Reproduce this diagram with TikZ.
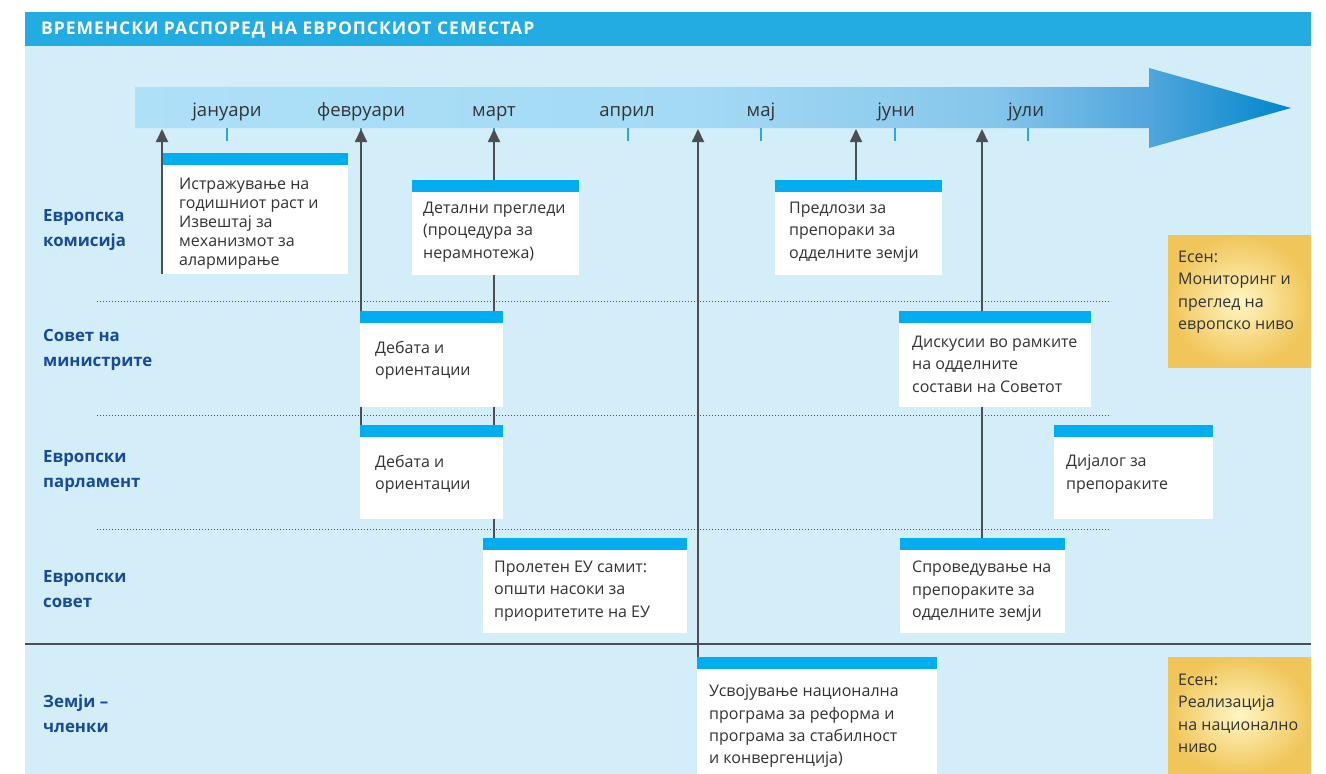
\documentclass[tikz,border=0pt]{standalone}
\usepackage{fontspec}
\setmainfont{Open Sans}
\usetikzlibrary{arrows.meta}
\definecolor{hdr}{HTML}{22ACE2}
\definecolor{bgc}{HTML}{D3EDF9}
\definecolor{stripc}{HTML}{00AEEF}
\definecolor{lblc}{HTML}{174B98}
\definecolor{txtc}{HTML}{333333}
\definecolor{lnc}{HTML}{4A4F55}
\definecolor{goldin}{HTML}{FFF6C2}
\definecolor{goldout}{HTML}{F0C55A}
\definecolor{tickc}{HTML}{29A9E0}
\definecolor{aa}{HTML}{AEE0F8}
\definecolor{ab}{HTML}{A4DAF5}
\definecolor{ac}{HTML}{86C6EB}
\definecolor{ad}{HTML}{4FA5DC}
\definecolor{ae}{HTML}{0086CC}
\pgfdeclarehorizontalshading{arrowshade}{100bp}{color(0bp)=(aa); color(25bp)=(aa); color(49bp)=(ab); color(62bp)=(ac); color(69bp)=(ad); color(75bp)=(ae); color(100bp)=(ae)}
\pgfdeclarelayer{back}
\pgfdeclarelayer{mid}
\pgfsetlayers{back,mid,main}
\tikzset{
  card/.style 2 args={fill=white, minimum width=#1, minimum height=#2, anchor=north west,
    inner sep=0pt, outer sep=0pt,
    path picture={\fill[stripc] (path picture bounding box.north west) rectangle ([yshift=-12pt]path picture bounding box.north east);}},
  goldbox/.style 2 args={inner color=goldin, outer color=goldout, minimum width=#1, minimum height=#2,
    anchor=north west, inner sep=0pt, outer sep=0pt},
  boxtxt/.style={anchor=north west, align=left, inner sep=0pt, text=txtc, font=\fontsize{16}{22.3}\selectfont},
  lane/.style={anchor=north west, align=left, inner sep=0pt, text=lblc, font=\fontsize{16.8}{25}\selectfont\bfseries},
  month/.style={anchor=base, inner sep=0pt, text=txtc, font=\fontsize{18.5}{20}\selectfont},
  conn/.style={draw=lnc, line width=1.8pt, -{Triangle[length=13pt,width=12pt]}},
  dotline/.style={draw=lnc, line width=0.9pt, dash pattern=on 1.2pt off 1.8pt},
  tickline/.style={draw=tickc, line width=1.5pt},
}
\begin{document}
\begin{tikzpicture}[x=1pt,y=-1pt]
\useasboundingbox (0,0) rectangle (1326,774);
\begin{pgfonlayer}{back}
\fill[bgc] (25,46) rectangle (1311,774);
\fill[hdr] (25,12) rectangle (1311,46);
\shade[shading=arrowshade] (135,87) -- (1149,87) -- (1149,68) -- (1291,108) -- (1149,148) -- (1149,128) -- (135,128) -- cycle;
\draw[draw=lnc, line width=1.5pt] (25,644) -- (1311,644);
\end{pgfonlayer}
\node[anchor=west, inner sep=0pt, text=white, font=\fontsize{17.5}{20}\selectfont\bfseries\addfontfeature{LetterSpace=5.5}] (title) at (41,29.5) {ВРЕМЕНСКИ РАСПОРЕД НА ЕВРОПСКИОТ СЕМЕСТАР};
% months
\node[month] (m1) at (227,116) {јануари};
\node[month] (m2) at (361,116) {февруари};
\node[month] (m3) at (494,116) {март};
\node[month] (m4) at (627,116) {април};
\node[month] (m5) at (761,116) {мај};
\node[month] (m6) at (896,116) {јуни};
\node[month] (m7) at (1026,116) {јули};
\begin{pgfonlayer}{back}
\foreach \tx in {227,361,494,628,761,895,1028} \draw[tickline] (\tx,128) -- (\tx,141);
\draw[dotline] (97,301) -- (1111,301);
\draw[dotline] (97,415) -- (1111,415);
\draw[dotline] (97,529) -- (1111,529);
\end{pgfonlayer}
\coordinate (a1) at (162,129);
\coordinate (a2) at (361,129);
\coordinate (a3) at (494,129);
\coordinate (a4) at (698,129);
\coordinate (a5) at (856,129);
\coordinate (a6) at (982,129);
% lane labels
\node[lane] (l1) at (43,209.5) {Европска\\комисија};
\node[lane] (l2) at (43,329.5) {Совет на\\министрите};
\node[lane] (l3) at (43,450.5) {Европски\\парламент};
\node[lane] (l4) at (43,570.5) {Европски\\совет};
\node[lane] (l5) at (43,694.5) {Земји –\\членки};
% boxes
\node[card={186pt}{121pt}] (ist) at (162,153) {};
\node[card={167pt}{95pt}] (det) at (412,180) {};
\node[card={167pt}{95pt}] (pred) at (775,180) {};
\node[card={143pt}{96pt}] (deb1) at (360,311) {};
\node[card={192pt}{96pt}] (disk) at (899,311) {};
\node[card={143pt}{94pt}] (deb2) at (360,425) {};
\node[card={159pt}{94pt}] (dij) at (1054,425) {};
\node[card={204pt}{95pt}] (prol) at (483,538) {};
\node[card={165pt}{95pt}] (sprov) at (900,538) {};
\node[card={240pt}{117pt}] (nat) at (697,657) {};
\node[goldbox={143pt}{132pt}, shade] (g1) at (1168,235) {};
\node[goldbox={143pt}{117pt}, shade] (g2) at (1168,657) {};
% connectors behind the boxes
\begin{pgfonlayer}{mid}
\draw[conn] (deb2.north -| a2) -- (a2);
\draw[conn] (prol.north -| a3) -- (a3);
\draw[conn] (nat.north -| a4) -- (a4);
\draw[conn] (pred.north -| a5) -- (a5);
\draw[conn] (sprov.north -| a6) -- (a6);
\end{pgfonlayer}
\draw[conn] (ist.south west) -- (a1);
% box texts
\node[boxtxt, font=\fontsize{16}{19}\selectfont] (ist-t) at (179,178) {Истражување на\\годишниот раст и\\Извештај за\\механизмот за\\алармирање};
\node[boxtxt] (det-t) at (423,202) {Детални прегледи\\(процедура за\\нерамнотежа)};
\node[boxtxt] (pred-t) at (789,202) {Предлози за\\препораки за\\одделните земји};
\node[boxtxt] (deb1-t) at (375,341) {Дебата и\\ориентации};
\node[boxtxt] (disk-t) at (912,336) {Дискусии во рамките\\на одделните\\состави на Советот};
\node[boxtxt] (deb2-t) at (375,455) {Дебата и\\ориентации};
\node[boxtxt] (dij-t) at (1066,455) {Дијалог за\\препораките};
\node[boxtxt] (prol-t) at (494,561) {Пролетен ЕУ самит:\\општи насоки за\\приоритетите на ЕУ};
\node[boxtxt] (sprov-t) at (912,561) {Спроведување на\\препораките за\\одделните земји};
\node[boxtxt] (nat-t) at (709,685) {Усвојување национална\\програма за реформа и\\програма за стабилност\\и конвергенција)};
\node[boxtxt] (g1-t) at (1178,251) {Есен:\\Мониторинг и\\преглед на\\европско ниво};
\node[boxtxt] (g2-t) at (1178,674) {Есен:\\Реализација\\на национално\\ниво};
\end{tikzpicture}
\end{document}
